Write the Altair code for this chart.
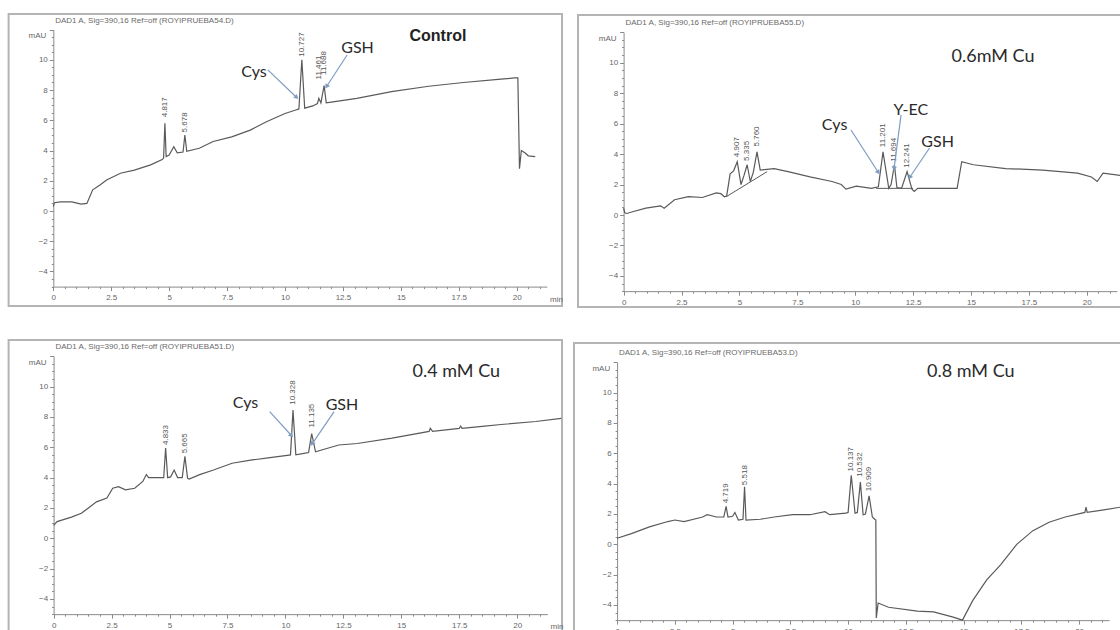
import math
import altair as alt
import pandas as pd

# ---------------- data ----------------
# Control
ctrl_t = [0.00, 0.05, 0.30, 0.80, 1.20, 1.45, 1.70, 2.00, 2.30, 2.90, 3.50, 4.20, 4.70, 4.76, 4.817,
          4.87, 5.00, 5.20, 5.35, 5.60, 5.678, 5.76, 6.30, 6.90, 7.70, 8.50, 9.20, 10.00, 10.50,
          10.60, 10.727, 10.85, 11.20, 11.40, 11.461, 11.55, 11.688, 11.78, 12.00, 13.10, 14.60,
          16.20, 17.70, 19.20, 19.90, 20.05, 20.12, 20.20, 20.35, 20.50, 20.80]
ctrl_v = [0.30, 0.55, 0.60, 0.60, 0.45, 0.50, 1.40, 1.70, 2.05, 2.50, 2.70, 3.05, 3.40, 3.50, 5.80,
          3.60, 3.70, 4.25, 3.85, 3.90, 5.03, 3.95, 4.15, 4.60, 4.90, 5.35, 5.90, 6.45, 6.70,
          6.75, 10.00, 6.80, 6.95, 7.10, 7.45, 7.15, 8.30, 7.15, 7.20, 7.45, 7.90,
          8.25, 8.50, 8.70, 8.80, 8.80, 2.80, 4.00, 3.85, 3.65, 3.60]
ctrl_peak_t = [4.817, 5.678, 10.727, 11.461, 11.688]
ctrl_peak_lab = ["4.817", "5.678", "10.727", "11.461", "11.688"]
ctrl_peak_v = [6.2, 5.2, 10.2, 8.7, 9.0]

# 0.6 mM Cu
cu06_t = [0.00, 0.05, 0.15, 0.35, 0.96, 1.60, 1.75, 2.20, 2.80, 3.40, 4.00, 4.20, 4.35, 4.45, 4.60,
          4.75, 4.907, 5.07, 5.20, 5.335, 5.47, 5.60, 5.76, 5.90, 6.50, 7.10, 8.05, 9.00, 9.40,
          9.60, 10.05, 10.70, 11.00, 11.201, 11.45, 11.55, 11.694, 11.80, 12.00, 12.10, 12.241,
          12.45, 12.55, 12.70, 14.40, 14.60, 15.10, 16.50, 18.10, 19.60, 20.20, 20.45, 20.70, 21.45]
cu06_v = [0.45, 0.15, 0.10, 0.20, 0.45, 0.60, 0.45, 1.00, 1.20, 1.15, 1.45, 1.40, 1.20, 1.25, 2.70,
          2.90, 3.50, 2.00, 2.60, 3.30, 2.20, 2.80, 4.15, 2.95, 3.05, 2.85, 2.50, 2.20, 2.00,
          1.70, 1.90, 1.75, 1.85, 4.15, 1.75, 2.00, 3.30, 1.80, 1.75, 2.20, 2.85,
          1.70, 1.55, 1.75, 1.75, 3.50, 3.30, 3.05, 2.95, 2.75, 2.50, 2.20, 2.75, 2.60]
cu06_peak_t = [4.907, 5.335, 5.760, 11.201, 11.694, 12.241]
cu06_peak_lab = ["4.907", "5.335", "5.760", "11.201", "11.694", "12.241"]
cu06_peak_v = [3.8, 3.55, 4.5, 4.45, 3.5, 3.1]
cu06_base_t1 = [4.43, 10.90]
cu06_base_v1 = [1.20, 1.75]
cu06_base_t2 = [6.20, 12.50]
cu06_base_v2 = [2.85, 1.75]

# 0.4 mM Cu
cu04_t = [0.00, 0.15, 0.77, 1.20, 1.50, 1.85, 2.30, 2.55, 2.80, 3.10, 3.50, 3.85, 4.00, 4.10, 4.60,
          4.75, 4.833, 4.92, 5.05, 5.20, 5.35, 5.55, 5.665, 5.78, 5.85, 6.30, 6.90, 7.70, 8.50,
          9.25, 10.00, 10.22, 10.328, 10.45, 10.80, 11.00, 11.135, 11.30, 12.30, 13.10, 14.60,
          16.20, 16.25, 16.35, 17.50, 17.56, 17.62, 18.60, 19.30, 20.80, 21.90]
cu04_v = [0.85, 1.10, 1.40, 1.65, 2.00, 2.40, 2.65, 3.30, 3.40, 3.20, 3.30, 3.75, 4.20, 4.00, 4.00,
          4.00, 5.95, 4.00, 4.05, 4.50, 4.00, 4.00, 5.40, 3.95, 3.90, 4.20, 4.50, 4.95, 5.15,
          5.30, 5.45, 5.50, 8.45, 5.50, 5.60, 5.65, 6.90, 5.70, 6.15, 6.25, 6.60,
          7.05, 7.25, 7.05, 7.25, 7.40, 7.25, 7.40, 7.50, 7.70, 7.90]
cu04_peak_t = [4.833, 5.665, 10.328, 11.135]
cu04_peak_lab = ["4.833", "5.665", "10.328", "11.135"]
cu04_peak_v = [6.15, 5.6, 8.8, 7.3]

# 0.8 mM Cu
cu08_t = [0.00, 0.62, 1.40, 2.20, 2.50, 2.90, 3.70, 3.90, 4.30, 4.62, 4.719, 4.80, 5.00, 5.10, 5.25,
          5.45, 5.518, 5.58, 6.20, 6.80, 7.60, 8.35, 9.00, 9.20, 9.90, 10.00, 10.137, 10.30, 10.40,
          10.532, 10.65, 10.75, 10.909, 11.05, 11.15, 11.20, 11.22, 11.30, 11.75, 13.00, 13.70,
          14.55, 14.95, 15.40, 16.00, 16.60, 17.30, 18.00, 18.70, 19.40, 20.25, 20.30, 20.35,
          21.00, 21.80]
cu08_v = [0.40, 0.70, 1.15, 1.50, 1.60, 1.50, 1.80, 1.95, 1.80, 1.80, 2.50, 1.80, 1.85, 2.10, 1.60,
          1.65, 3.80, 1.60, 1.65, 1.80, 1.95, 1.95, 2.15, 1.95, 2.05, 2.10, 4.55, 2.05, 2.10,
          4.10, 1.95, 2.00, 3.20, 1.80, 1.65, 1.60, -4.85, -3.87, -4.15, -4.40, -4.45,
          -4.80, -5.00, -3.70, -2.35, -1.35, 0.00, 0.90, 1.45, 1.80, 2.10, 2.45, 2.10,
          2.25, 2.45]
cu08_peak_t = [4.719, 5.518, 10.137, 10.532, 10.909]
cu08_peak_lab = ["4.719", "5.518", "10.137", "10.532", "10.909"]
cu08_peak_v = [2.7, 3.9, 4.8, 4.45, 3.5]

# compound annotations: label, t, v (text baseline)
ctrl_note_lab = ["Cys", "GSH"]
ctrl_note_t = [8.66, 13.13]
ctrl_note_v = [8.86, 10.45]
cu06_note_lab = ["Cys", "Y-EC", "GSH"]
cu06_note_t = [9.11, 12.40, 13.56]
cu06_note_v = [5.58, 6.57, 4.48]
cu04_note_lab = ["Cys", "GSH"]
cu04_note_t = [8.28, 12.44]
cu04_note_v = [8.59, 8.46]
cu08_note_lab = []
cu08_note_t = []
cu08_note_v = []

# arrows: start (t1, v1) -> tip (t2, v2)
ctrl_arr = {"t1": [9.26, 12.68], "v1": [9.33, 10.32], "t2": [10.48, 11.81], "v2": [7.54, 8.27]}
cu06_arr = {"t1": [9.82, 11.98, 13.21], "v1": [5.58, 6.57, 4.40],
            "t2": [10.98, 11.68, 12.37], "v2": [2.84, 3.09, 2.51]}
cu04_arr = {"t1": [9.32, 12.10], "v1": [8.35, 8.35], "t2": [10.24, 11.17], "v2": [6.81, 6.26]}
cu08_arr = {"t1": [], "v1": [], "t2": [], "v2": []}

# panel titles
titles = ["Control", "0.6mM  Cu", "0.4 mM  Cu", "0.8 mM  Cu"]
title_t = [16.6, 15.95, 17.37, 15.31]
title_v = [11.26, 10.05, 10.65, 11.05]
headers = ["DAD1 A, Sig=390,16 Ref=off (ROYIPRUEBA54.D)",
           "DAD1 A, Sig=390,16 Ref=off (ROYIPRUEBA55.D)",
           "DAD1 A, Sig=390,16 Ref=off (ROYIPRUEBA51.D)",
           "DAD1 A, Sig=390,16 Ref=off (ROYIPRUEBA53.D)"]

X_DOMAIN = [0, 21.3]
Y_DOMAIN = [-5, 12]
X_TICKS = [i * 0.5 for i in range(0, 43)]
Y_TICKS = [-5 + i * 0.5 for i in range(0, 35)]

# ---------------- layout / style ----------------
W, H = 1120, 630
LAYOUT = [
    dict(x0=53.3, sx=23.17, y0=211.0, sy=15.12, frame=(8.6, 562, 14, 306)),
    dict(x0=623.6, sx=23.16, y0=215.0, sy=15.23, frame=(578, 1130, 15, 307)),
    dict(x0=53.6, sx=23.18, y0=538.3, sy=15.17, frame=(8.6, 562, 340, 645)),
    dict(x0=617.1, sx=23.10, y0=544.3, sy=15.17, frame=(574, 1130, 343, 645)),
]
FONT = "Liberation Sans"
NOTE_FONT = "Lato"
AX = "#8a8a8a"
LAB = "#666666"
LINE = "#5a5a5a"
ARROW = "#7f9cc0"
FRAME = "#b4b4b4"


def panel(i, tr_t, tr_v, pk_t, pk_lab, pk_v, nt_lab, nt_t, nt_v, arr, base=None):
    L = LAYOUT[i]
    xr = [L["x0"] + L["sx"] * X_DOMAIN[0], L["x0"] + L["sx"] * X_DOMAIN[1]]
    yr = [L["y0"] - L["sy"] * Y_DOMAIN[0], L["y0"] - L["sy"] * Y_DOMAIN[1]]
    common = dict(domainColor=AX, tickColor=AX, labelColor=LAB, labelFont=FONT,
                  labelFontSize=8, grid=False, title=None, labelOverlap=False,
                  labelFlush=False, domainWidth=1, tickWidth=1)
    xaxis = alt.Axis(orient="bottom", offset=yr[0] - H, values=X_TICKS,
                     labelExpr="datum.value % 2.5 === 0 ? format(datum.value, '~g') : ''",
                     tickSize={"condition": {"test": "datum.value % 2.5 === 0", "value": 4}, "value": 2},
                     labelPadding=3, **common)
    yaxis = alt.Axis(orient="left", offset=-xr[0], values=Y_TICKS,
                     labelExpr="(datum.value % 2 === 0 && datum.value < 11) ? format(datum.value, '~g') : ''",
                     tickSize={"condition": {"test": "datum.value % 2 === 0", "value": 4}, "value": 2},
                     labelPadding=2, **common)
    xs = alt.Scale(domain=X_DOMAIN, range=xr, nice=False, zero=False)
    ys = alt.Scale(domain=Y_DOMAIN, range=yr, nice=False, zero=False)
    X = alt.X("t:Q", scale=xs, axis=xaxis)
    Y = alt.Y("v:Q", scale=ys, axis=yaxis)

    fx1, fx2, fy1, fy2 = L["frame"]
    layers = []
    layers.append(alt.Chart(pd.DataFrame({"k": [0]})).mark_rect(
        fill="transparent", stroke=FRAME, strokeWidth=2).encode(
        x=alt.value(fx1), x2=alt.value(fx2), y=alt.value(fy1), y2=alt.value(fy2)))

    layers.append(alt.Chart(pd.DataFrame({"t": tr_t, "v": tr_v})).mark_line(
        color=LINE, strokeWidth=1.2).encode(x=X, y=Y))

    if base is not None:
        bdf = pd.DataFrame({"t": base[0], "v": base[1], "t2": base[2], "v2": base[3]})
        layers.append(alt.Chart(bdf).mark_rule(color=LINE, strokeWidth=1).encode(
            x=X, y=Y, x2="t2:Q", y2="v2:Q"))

    layers.append(alt.Chart(pd.DataFrame({"t": pk_t, "v": pk_v, "label": pk_lab})).mark_text(
        angle=270, align="left", baseline="middle", font=FONT, fontSize=8, color="#555555").encode(
        x=X, y=Y, text="label:N"))

    if len(arr["t1"]):
        adf = pd.DataFrame({"t": arr["t1"], "v": arr["v1"], "t2": arr["t2"], "v2": arr["v2"]})
        layers.append(alt.Chart(adf).mark_rule(color=ARROW, strokeWidth=1.2).encode(
            x=X, y=Y, x2="t2:Q", y2="v2:Q"))
        angs = []
        for a, b, c, d in zip(arr["t1"], arr["v1"], arr["t2"], arr["v2"]):
            dx = (c - a) * L["sx"]
            dy = -(d - b) * L["sy"]
            angs.append(math.degrees(math.atan2(dx, -dy)) % 360)
        hdf = pd.DataFrame({"t": arr["t2"], "v": arr["v2"], "ang": angs})
        layers.append(alt.Chart(hdf).mark_point(shape="triangle", filled=True, size=28,
                                                color=ARROW, opacity=1).encode(
            x=X, y=Y, angle=alt.Angle("ang:Q", scale=None)))

    if len(nt_lab):
        layers.append(alt.Chart(pd.DataFrame({"t": nt_t, "v": nt_v, "label": nt_lab})).mark_text(
            align="center", baseline="alphabetic", font=NOTE_FONT, fontSize=16, color="#2a2a2a").encode(
            x=X, y=Y, text="label:N"))

    if i == 0:
        tmark = alt.Chart(pd.DataFrame({"t": [title_t[i]], "v": [title_v[i]], "label": [titles[i]]})).mark_text(
            align="center", baseline="alphabetic", font=FONT, fontSize=16, fontWeight="bold", color="#222222")
    else:
        tmark = alt.Chart(pd.DataFrame({"t": [title_t[i]], "v": [title_v[i]], "label": [titles[i]]})).mark_text(
            align="center", baseline="alphabetic", font=NOTE_FONT, fontSize=18, color="#2a2a2a")
    layers.append(tmark.encode(x=X, y=Y, text="label:N"))

    layers.append(alt.Chart(pd.DataFrame({"t": [0.08], "v": [12.45], "label": [headers[i]]})).mark_text(
        align="left", baseline="alphabetic", font=FONT, fontSize=8, color="#6a6a6a").encode(
        x=X, y=Y, text="label:N"))
    layers.append(alt.Chart(pd.DataFrame({"t": [-0.3], "v": [11.45], "label": ["mAU"]})).mark_text(
        align="right", baseline="alphabetic", font=FONT, fontSize=8, color=LAB).encode(
        x=X, y=Y, text="label:N"))
    layers.append(alt.Chart(pd.DataFrame({"t": [21.44], "v": [-6.0], "label": ["min"]})).mark_text(
        align="left", baseline="alphabetic", font=FONT, fontSize=8, color=LAB).encode(
        x=X, y=Y, text="label:N"))
    return alt.layer(*layers)


for a, b in [(ctrl_t, ctrl_v), (cu06_t, cu06_v), (cu04_t, cu04_v), (cu08_t, cu08_v)]:
    assert len(a) == len(b), (len(a), len(b))

p1 = panel(0, ctrl_t, ctrl_v, ctrl_peak_t, ctrl_peak_lab, ctrl_peak_v,
           ctrl_note_lab, ctrl_note_t, ctrl_note_v, ctrl_arr)
p2 = panel(1, cu06_t, cu06_v, cu06_peak_t, cu06_peak_lab, cu06_peak_v,
           cu06_note_lab, cu06_note_t, cu06_note_v, cu06_arr,
           base=(cu06_base_t1, cu06_base_v1, cu06_base_t2, cu06_base_v2))
p3 = panel(2, cu04_t, cu04_v, cu04_peak_t, cu04_peak_lab, cu04_peak_v,
           cu04_note_lab, cu04_note_t, cu04_note_v, cu04_arr)
p4 = panel(3, cu08_t, cu08_v, cu08_peak_t, cu08_peak_lab, cu08_peak_v,
           cu08_note_lab, cu08_note_t, cu08_note_v, cu08_arr)

chart = alt.layer(p1, p2, p3, p4).resolve_scale(
    x="independent", y="independent"
).resolve_axis(
    x="independent", y="independent"
).properties(
    width=W, height=H, padding=0,
    autosize=alt.AutoSizeParams(type="none"),
    background="white",
).configure_view(stroke="transparent")

chart.save("out.html", embed_options={"renderer": "svg", "actions": False})
